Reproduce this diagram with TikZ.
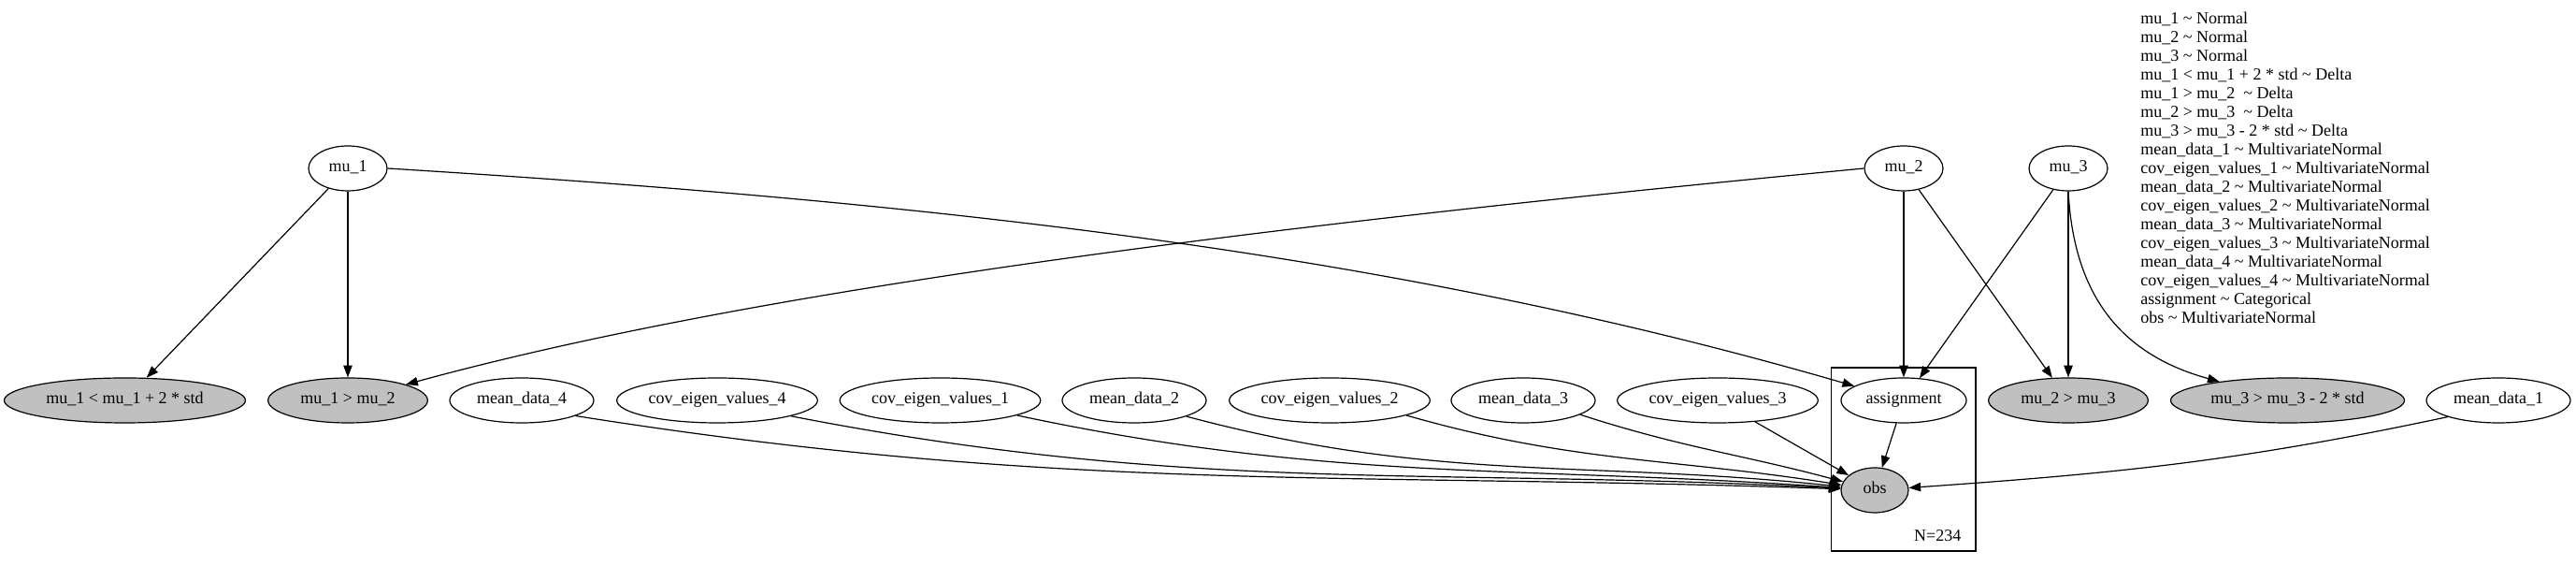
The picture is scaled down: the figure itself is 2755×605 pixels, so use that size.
\documentclass[tikz,border=0pt]{standalone}
\usepackage{fontspec}
\setmainfont{Liberation Serif}
\usetikzlibrary{shapes.geometric,arrows.meta}
\definecolor{obsgray}{HTML}{C0C0C0}
\begin{document}
\begin{tikzpicture}[x=0.75pt,y=0.75pt,
	every node/.style={font=\fontsize{13.5}{15}\selectfont},
	var/.style={ellipse,draw,line width=0.9pt,inner sep=0pt,minimum height=36pt,text height=9pt,text depth=3pt},
	fixed/.style={var,fill=obsgray},
	edge/.style={line width=0.9pt,-{Triangle[length=9.5pt,width=7pt]}}]
\useasboundingbox (0,0) rectangle (2755,605);
\draw[line width=0.9pt] (1958.5,16) rectangle (2113,212);
\node[anchor=base east] (plate) at (2102,26) {N=234};
\node[var,minimum width=63pt] (mu1) at (372,425) {mu\_1};
\node[var,minimum width=63pt] (mu2) at (2036,425) {mu\_2};
\node[var,minimum width=63pt] (mu3) at (2212,425) {mu\_3};
\foreach \n/\x/\w/\t in {md4/558/115.5/mean\_data\_4,cv4/767/161/cov\_eigen\_values\_4,
	cv1/1005.5/161/cov\_eigen\_values\_1,md2/1213/115.5/mean\_data\_2,
	cv2/1422/161/cov\_eigen\_values\_2,md3/1629/115.5/mean\_data\_3,
	cv3/1837/161/cov\_eigen\_values\_3,asg/2036/100.5/assignment,md1/2672/115.5/mean\_data\_1}
{
	\node[var,minimum width=\w pt] (\n) at (\x,177) {\t};
}
\foreach \n/\x/\w/\t in {lt1/133.5/193.5/mu\_1 < mu\_1 + 2 * std,gt12/372/128/mu\_1 > mu\_2,
	gt23/2212/128/mu\_2 > mu\_3,gt3/2446.5/187.5/mu\_3 > mu\_3 - 2 * std}
{
	\node[fixed,minimum width=\w pt] (\n) at (\x,177) {\t};
}
\node[fixed,minimum width=54pt] (obs) at (2005,81) {obs};
\draw[edge] (mu1) -- (lt1);
\draw[edge] (mu1) -- (gt12);
\draw[edge] (mu1.east) .. controls (1014,388) and (1498,333) .. (asg);
\draw[edge] (mu2.west) .. controls (1394,368) and (822,300) .. (gt12);
\draw[edge] (mu2) -- (asg);
\draw[edge] (mu2) -- (gt23);
\draw[edge] (mu3) -- (asg);
\draw[edge] (mu3) -- (gt23);
\draw[edge] (mu3.south) .. controls (2218,285) and (2272,225) .. (gt3);
\draw[edge] (asg) -- (obs);
\draw[edge] (cv3) -- (obs);
\foreach \s/\a/\o/\i in {md4/-16/-9/178,cv4/-12/-11/177,cv1/-11/-12/176,
	md2/-17/-15/174,cv2/-11/-16/171,md3/-14/-18/165,md1/198/192/4}
{
	\draw[edge] (\s.\a) to[out=\o,in=\i] (obs);
}
\foreach \t [count=\i] in {mu\_1 \textasciitilde{} Normal,mu\_2 \textasciitilde{} Normal,mu\_3 \textasciitilde{} Normal,
	mu\_1 < mu\_1 + 2 * std \textasciitilde{} Delta,mu\_1 > mu\_2 \ \textasciitilde{} Delta,
	mu\_2 > mu\_3 \ \textasciitilde{} Delta,mu\_3 > mu\_3 - 2 * std \textasciitilde{} Delta,
	mean\_data\_1 \textasciitilde{} MultivariateNormal,cov\_eigen\_values\_1 \textasciitilde{} MultivariateNormal,
	mean\_data\_2 \textasciitilde{} MultivariateNormal,cov\_eigen\_values\_2 \textasciitilde{} MultivariateNormal,
	mean\_data\_3 \textasciitilde{} MultivariateNormal,cov\_eigen\_values\_3 \textasciitilde{} MultivariateNormal,
	mean\_data\_4 \textasciitilde{} MultivariateNormal,cov\_eigen\_values\_4 \textasciitilde{} MultivariateNormal,
	assignment \textasciitilde{} Categorical,obs \textasciitilde{} MultivariateNormal}
{
	\node[anchor=base west,inner sep=0pt] (dist\i) at (2289,{579-20*(\i-1)}) {\t};
}
\end{tikzpicture}
\end{document}
